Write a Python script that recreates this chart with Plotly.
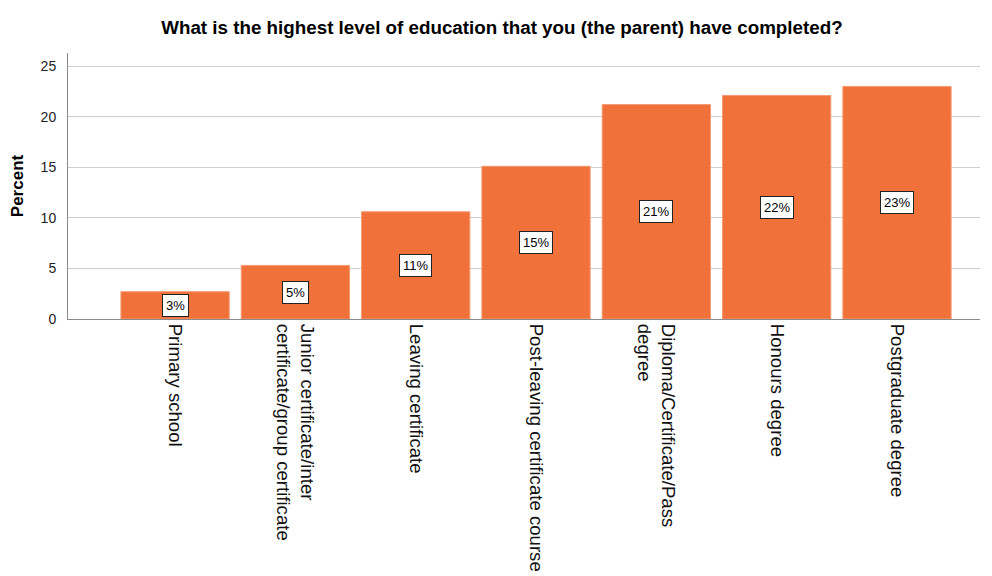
import plotly.graph_objects as go

categories = [
    "Primary school",
    "Junior certificate/inter<br>certificate/group certificate",
    "Leaving certificate",
    "Post-leaving certificate course",
    "Diploma/Certificate/Pass<br>degree",
    "Honours degree",
    "Postgraduate degree",
]
percent = [2.7, 5.3, 10.6, 15.1, 21.2, 22.1, 23.0]
labels = ["3%", "5%", "11%", "15%", "21%", "22%", "23%"]
y_ticks = [0, 5, 10, 15, 20, 25]

FONT = "Liberation Sans, Arial, sans-serif"

fig = go.Figure()
fig.add_trace(go.Bar(
    x=list(range(len(categories))),
    y=percent,
    marker=dict(color="#F1713B", line=dict(color="#F39A72", width=1)),
    hoverinfo="skip",
))

for i, (v, t) in enumerate(zip(percent, labels)):
    fig.add_annotation(
        x=i, y=v / 2, text=t, showarrow=False,
        font=dict(family=FONT, size=13, color="#000"),
        bgcolor="white", bordercolor="#222", borderwidth=1, borderpad=3,
    )

fig.update_layout(
    width=992, height=576,
    margin=dict(l=68, r=12, t=53, b=257),
    paper_bgcolor="white", plot_bgcolor="white",
    bargap=0.1,
    showlegend=False,
    title=dict(
        text="<b>What is the highest level of education that you (the parent) have completed?</b>",
        x=0.506, xanchor="center", y=0.953, yanchor="middle",
        font=dict(family=FONT, size=18.8, color="#000"),
    ),
    font=dict(family=FONT),
)

fig.update_xaxes(
    tickmode="array",
    tickvals=list(range(len(categories))),
    ticktext=categories,
    tickangle=90,
    range=[-0.89, 6.69],
    automargin=False,
    showline=True, linecolor="#8a8a8a", linewidth=1,
    showgrid=False, ticks="",
    tickfont=dict(size=18.6, color="#111"),
)
fig.update_yaxes(
    range=[0, 26.3],
    tickvals=y_ticks,
    automargin=False,
    showline=True, linecolor="#8a8a8a", linewidth=1,
    showgrid=True, gridcolor="#cfcfcf", gridwidth=1,
    zeroline=False,
    ticks="outside", ticklen=0, ticklabelstandoff=8,
    tickfont=dict(size=14, color="#222"),
    title=dict(text="<b>Percent</b>", font=dict(size=17, color="#000"), standoff=12),
)

fig.write_html("out.html")
